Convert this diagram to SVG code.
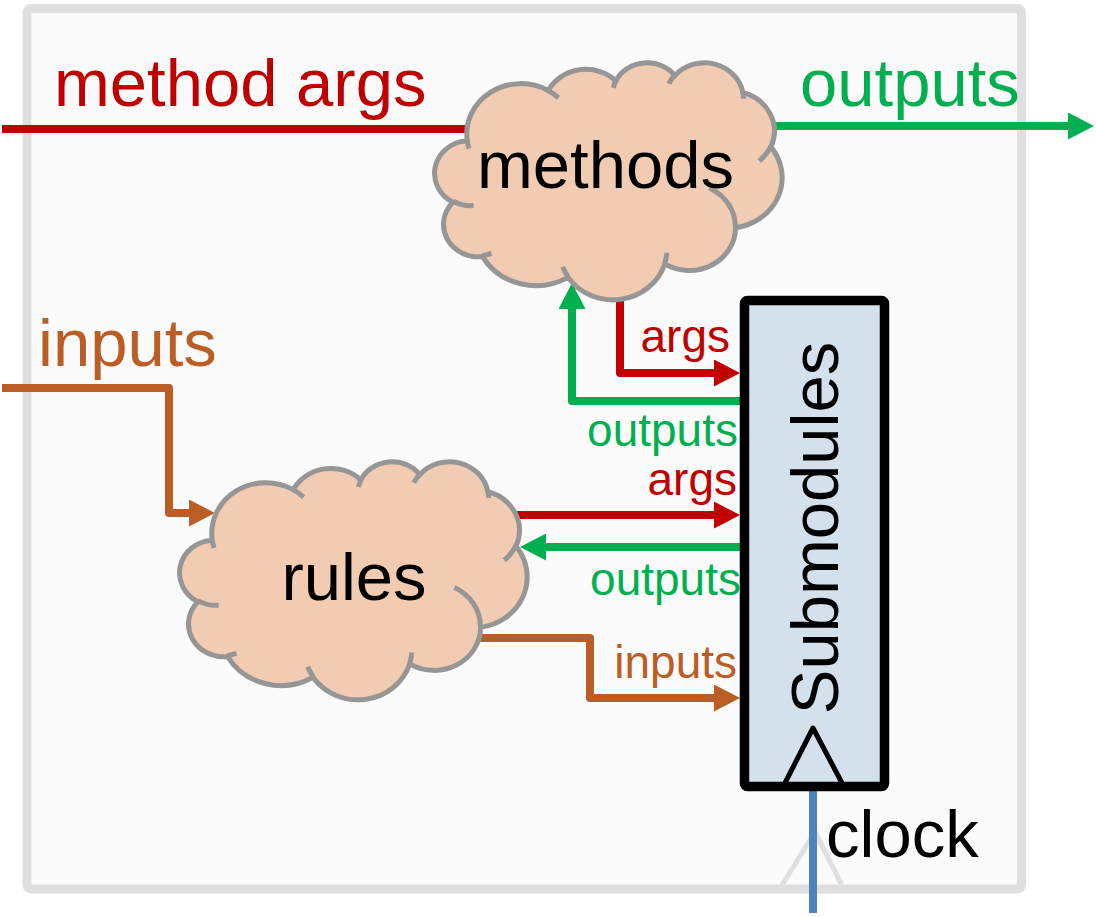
<svg xmlns="http://www.w3.org/2000/svg" xmlns:xlink="http://www.w3.org/1999/xlink" width="1096" height="917" viewBox="0 0 1096 917">
<style>
text{font-family:"Liberation Sans",Arial,sans-serif;}
.big{font-size:67px;}
.small{font-size:46px;}
.cloud-outline{fill:#F1CCB3;stroke:#969696;stroke-width:5;vector-effect:non-scaling-stroke;}
.cloud-inner{fill:none;stroke:#969696;stroke-width:5;vector-effect:non-scaling-stroke;}
.conn{fill:none;stroke-width:8;stroke-linejoin:round;}
.red{stroke:#C00000;}
.green{stroke:#00B050;}
.orange{stroke:#BB5E26;}
</style>
<defs>
<marker id="ahRed" markerUnits="userSpaceOnUse" markerWidth="26" markerHeight="27" refX="16" refY="13.5" orient="auto"><path d="M0,0 L26,13.5 L0,27 Z" fill="#C00000"/></marker>
<marker id="ahGreen" markerUnits="userSpaceOnUse" markerWidth="26" markerHeight="27" refX="16" refY="13.5" orient="auto"><path d="M0,0 L26,13.5 L0,27 Z" fill="#00B050"/></marker>
<marker id="ahOrange" markerUnits="userSpaceOnUse" markerWidth="26" markerHeight="27" refX="16" refY="13.5" orient="auto"><path d="M0,0 L26,13.5 L0,27 Z" fill="#BB5E26"/></marker>
<g id="cloud">
<path class="cloud-outline" d="M3900,14370 A6753,9190 0 0 1 14005,5202 A5333,7267 0 0 1 22456,3431 A4365,5945 0 0 1 29833,2480 A4857,6595 0 0 1 38318,5575 A5333,7273 0 0 1 41819,15459 A6775,9220 0 0 1 37405,30202 A5785,7867 0 0 1 28556,36812 A6752,9215 0 0 1 16481,39263 A7720,10543 0 0 1 5805,35469 A4360,5918 0 0 1 2114,25547 A4345,5945 0 0 1 3900,14370 Z"/>
<path class="cloud-inner" d="M4693,26177 A4345,5945 0 0 1 2160,25380 M6928,34899 A4360,5918 0 0 1 5819,35281 M16478,39090 A6752,9215 0 0 1 15810,37350 M28827,34751 A6752,9215 0 0 1 28560,36660 M34129,22954 A5785,7867 0 0 1 37381,30090 M41798,15354 A5333,7273 0 0 1 40350,18030 M38324,5426 A4857,6595 0 0 1 38400,6690 M29078,3952 A4857,6595 0 0 1 29820,2341 M22141,4720 A4365,5945 0 0 1 22500,3330 M14000,5192 A6753,9190 0 0 1 15300,6540 M4127,15789 A6753,9190 0 0 1 3901,14372"/>
</g>
</defs>

<g id="module-frame">
<rect x="27" y="8.5" width="994.5" height="880.5" rx="4" fill="#FBFBFB" stroke="#DFDFDF" stroke-width="9"/>
<polyline points="782,885 815,832 842,885" fill="none" stroke="#E0E0E0" stroke-width="5" stroke-linejoin="round"/>
</g>

<g id="connectors">
<path class="conn red" d="M2,129 H470"/>
<path class="conn green" d="M774,126 H1084" marker-end="url(#ahGreen)"/>
<path class="conn orange" d="M2,388 H169 V513 H205" marker-end="url(#ahOrange)"/>
<path class="conn red" d="M620,290 V373 H730" marker-end="url(#ahRed)"/>
<path class="conn green" d="M740,401 H572 V293" marker-end="url(#ahGreen)"/>
<path class="conn red" d="M512,515 H730" marker-end="url(#ahRed)"/>
<path class="conn green" d="M740,547 H530" marker-end="url(#ahGreen)"/>
<path class="conn orange" d="M475,638 H590 V698 H730" marker-end="url(#ahOrange)"/>
<path class="conn" d="M813,788 V913" stroke="#5083BC"/>
</g>

<g id="clouds">
<g id="methods">
<use xlink:href="#cloud" href="#cloud" transform="translate(436,62) scale(0.008009,0.005486)"/>
<text class="big" x="605.5" y="188" text-anchor="middle" fill="#000">methods</text>
</g>
<g id="rules">
<use xlink:href="#cloud" href="#cloud" transform="translate(181,461) scale(0.008009,0.005509)"/>
<text class="big" x="354" y="600" text-anchor="middle" fill="#000">rules</text>
</g>
</g>

<g id="submodules">
<rect x="744.5" y="300.5" width="140" height="486" rx="3" fill="#D4E1ED" stroke="#000" stroke-width="9.5"/>
<polyline points="785,783 813,728 842,783" fill="none" stroke="#000" stroke-width="5" stroke-linejoin="round"/>
<text class="big" x="838" y="528" transform="rotate(-90 838 528)" text-anchor="middle" fill="#000">Submodules</text>
</g>

<g id="labels">
<text class="big" x="54" y="106" fill="#C00000">method args</text>
<text class="big" x="800" y="106" fill="#00B050">outputs</text>
<text class="big" x="38" y="366" fill="#BB5E26">inputs</text>
<text class="big" x="826" y="857" fill="#000">clock</text>
<text class="small" x="730" y="352" text-anchor="end" fill="#C00000">args</text>
<text class="small" x="738" y="446" text-anchor="end" fill="#00B050">outputs</text>
<text class="small" x="737" y="495" text-anchor="end" fill="#C00000">args</text>
<text class="small" x="741" y="595" text-anchor="end" fill="#00B050">outputs</text>
<text class="small" x="737" y="678" text-anchor="end" fill="#BB5E26">inputs</text>
</g>
</svg>
